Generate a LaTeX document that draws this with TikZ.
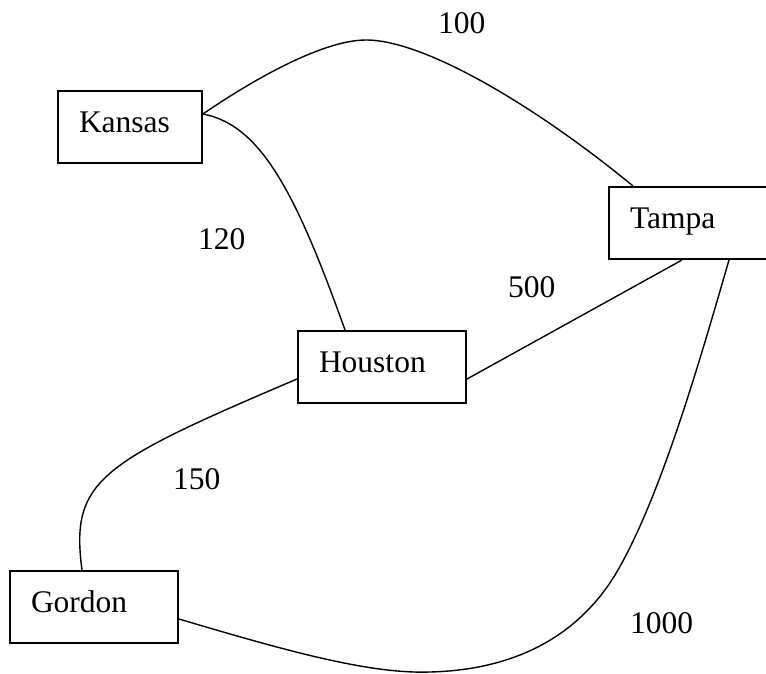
\documentclass[tikz,border=0pt]{standalone}
\usepackage{fontspec}
\setmainfont{Liberation Serif}
\begin{document}
\begin{tikzpicture}[x=1pt,y=-1pt,
  city/.style={draw, line width=2pt, anchor=north west,
    inner xsep=21pt, inner ysep=0pt, text height=41pt, text depth=31pt,
    align=left, font=\fontsize{31.5}{36}\selectfont},
  road/.style={line width=1.4pt},
  dist/.style={anchor=base west, inner sep=0pt, font=\fontsize{31.5}{36}\selectfont}]
\useasboundingbox (0,0) rectangle (766,673);

% cities
\node[city, text width=102pt] (kansas)  at (57,90)   {Kansas};
\node[city, text width=118pt] (tampa)   at (608,186) {Tampa};
\node[city, text width=126pt] (houston) at (297,330) {Houston};
\node[city, text width=126pt] (gordon)  at (9,570)   {Gordon};

% roads
\draw[road] ([yshift=13pt]kansas.east)
  .. controls (245,85) and (320,40) .. (366,40)
  .. controls (425,40) and (537,107) .. ([xshift=25pt]tampa.north west);
\draw[road] ([yshift=13pt]kansas.east)
  .. controls (260,125) and (295,190) .. ([xshift=-37pt]houston.north);
\draw[road] ([yshift=-12pt]houston.east) -- ([xshift=-7pt]tampa.south);
\draw[road] ([yshift=-12pt]houston.west)
  .. controls (100,463) and (70,480) .. ([xshift=-12pt]gordon.north);
\draw[road] ([yshift=-12pt]gordon.east)
  .. controls (290,652) and (370,674) .. (430,672)
  .. controls (510,670) and (575,640) .. (615,575)
  .. controls (660,500) and (700,360) .. ([xshift=40pt]tampa.south);

% distances
\node[dist] (d100)  at (438,33)  {100};
\node[dist] (d120)  at (198,249) {120};
\node[dist] (d500)  at (508,297) {500};
\node[dist] (d150)  at (173,489) {150};
\node[dist] (d1000) at (630,633) {1000};
\end{tikzpicture}
\end{document}
